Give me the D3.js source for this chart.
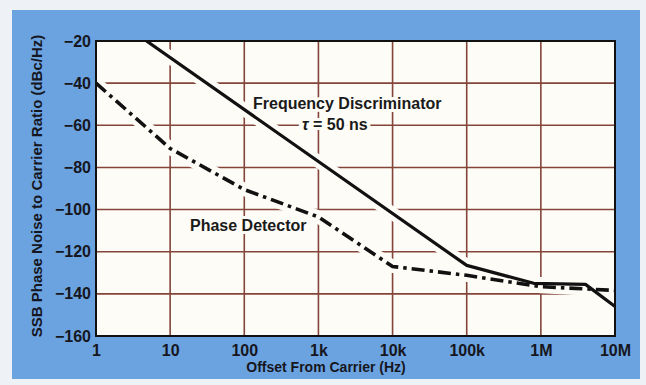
<!DOCTYPE html>
<html>
<head>
<meta charset="utf-8">
<script src="https://cdn.jsdelivr.net/npm/d3@7"></script>
<style>
  body { margin: 0; background: #eef2f6; }
  svg { display: block; font-family: "Liberation Sans", Arial, sans-serif; font-weight: bold; }
</style>
</head>
<body>
<div id="chart"></div>
<script>
// offset frequencies (Hz) and SSB phase noise (dBc/Hz)
var discFreq = [4.8, 1e5, 8e5, 4e6, 1e7];
var discDb = [-20, -126.5, -135, -135.5, -146];
var detFreq = [1, 10, 100, 1e3, 1e4, 1e5, 1e6, 1e7];
var detDb = [-40, -71, -90.5, -103.5, -127, -131.2, -136.6, -138.4];

var xTicks = [1, 10, 100, 1e3, 1e4, 1e5, 1e6, 1e7];
var xTickLabels = ["1", "10", "100", "1k", "10k", "100k", "1M", "10M"];
var yTicks = [-20, -40, -60, -80, -100, -120, -140, -160];

var W = 646, H = 385;
var margin = { top: 41, right: 31, bottom: 49, left: 96 };
var width = W - margin.left - margin.right,
  height = H - margin.top - margin.bottom;

var svg = d3.select("#chart").append("svg").attr("width", W).attr("height", H);

// blue panel
svg.append("rect")
  .attr("x", 12).attr("y", 10)
  .attr("width", 628).attr("height", 369)
  .attr("fill", "#6ba3e1");

var x = d3.scaleLog().domain([1, 1e7]).range([0, width]);
var y = d3.scaleLinear().domain([-160, -20]).range([height, 0]);

var g = svg.append("g")
  .attr("transform", "translate(" + margin.left + "," + margin.top + ")");

g.append("clipPath").attr("id", "plotclip")
  .append("rect").attr("width", width).attr("height", height);

g.append("rect")
  .attr("width", width).attr("height", height)
  .attr("fill", "#fdfcf6");

// grid
g.selectAll(".vgrid")
  .data(xTicks.slice(1, -1))
  .enter()
  .append("line")
  .attr("x1", function(d) { return x(d); })
  .attr("x2", function(d) { return x(d); })
  .attr("y1", 0).attr("y2", height)
  .attr("stroke", "#85443a").attr("stroke-width", 1.6);
g.selectAll(".hgrid")
  .data(yTicks.slice(1, -1))
  .enter()
  .append("line")
  .attr("y1", function(d) { return y(d); })
  .attr("y2", function(d) { return y(d); })
  .attr("x1", 0).attr("x2", width)
  .attr("stroke", "#85443a").attr("stroke-width", 1.6);

var line = d3.line()
  .x(function(d) { return x(d[0]); })
  .y(function(d) { return y(d[1]); });

var disc = d3.zip(discFreq, discDb);
var det = d3.zip(detFreq, detDb);

var curves = g.append("g").attr("clip-path", "url(#plotclip)");
// white halos where the grid is broken round the curves
[disc, det].forEach(function(pts) {
  curves.append("path")
    .attr("d", line(pts))
    .attr("fill", "none")
    .attr("stroke", "#fdfcf6")
    .attr("stroke-width", 13);
});
curves.append("path")
  .attr("d", line(disc))
  .attr("fill", "none")
  .attr("stroke", "#111")
  .attr("stroke-width", 3.2)
  .attr("stroke-linejoin", "round");
curves.append("path")
  .attr("d", line(det))
  .attr("fill", "none")
  .attr("stroke", "#111")
  .attr("stroke-width", 3.6)
  .attr("stroke-dasharray", "13,5,3.5,5");

// frame
g.append("rect")
  .attr("width", width).attr("height", height)
  .attr("fill", "none")
  .attr("stroke", "#111").attr("stroke-width", 2);

// curve labels
function label(t, lx, ly) {
  return g.append("text")
    .attr("x", lx).attr("y", ly)
    .attr("font-size", 16)
    .attr("fill", "#1a1a1a")
    .attr("stroke", "#fdfcf6").attr("stroke-width", 6)
    .attr("paint-order", "stroke")
    .text(t);
}
label("Frequency Discriminator", 253 - margin.left, 109 - margin.top);
label("Phase Detector", 190 - margin.left, 231 - margin.top);
var tau = g.append("text")
  .attr("x", 302 - margin.left).attr("y", 130 - margin.top)
  .attr("font-size", 16)
  .attr("fill", "#1a1a1a")
  .attr("stroke", "#fdfcf6").attr("stroke-width", 6)
  .attr("paint-order", "stroke");
tau.append("tspan").attr("font-style", "italic").text("τ");
tau.append("tspan").text(" = 50 ns");

// axes
var xAxis = d3.axisBottom(x)
  .tickValues(xTicks)
  .tickFormat(function(d, i) { return xTickLabels[i]; })
  .tickSize(0).tickPadding(9);
var yAxis = d3.axisLeft(y)
  .tickValues(yTicks)
  .tickFormat(function(d) { return "\u2212" + Math.abs(d); })
  .tickSize(0).tickPadding(5);

var xg = g.append("g").attr("transform", "translate(0," + height + ")").call(xAxis);
var yg = g.append("g").call(yAxis);
[xg, yg].forEach(function(a) {
  a.select(".domain").remove();
  a.selectAll("text")
    .attr("font-family", "Liberation Sans, Arial, sans-serif")
    .attr("font-weight", "bold")
    .attr("font-size", 16)
    .attr("fill", "#161620");
});

svg.append("text")
  .attr("x", 326).attr("y", 372)
  .attr("text-anchor", "middle")
  .attr("font-size", 14)
  .attr("fill", "#161620")
  .text("Offset From Carrier (Hz)");

svg.append("text")
  .attr("transform", "translate(42,186) rotate(-90)")
  .attr("text-anchor", "middle")
  .attr("font-size", 15)
  .attr("fill", "#161620")
  .text("SSB Phase Noise to Carrier Ratio (dBc/Hz)");
</script>
</body>
</html>
